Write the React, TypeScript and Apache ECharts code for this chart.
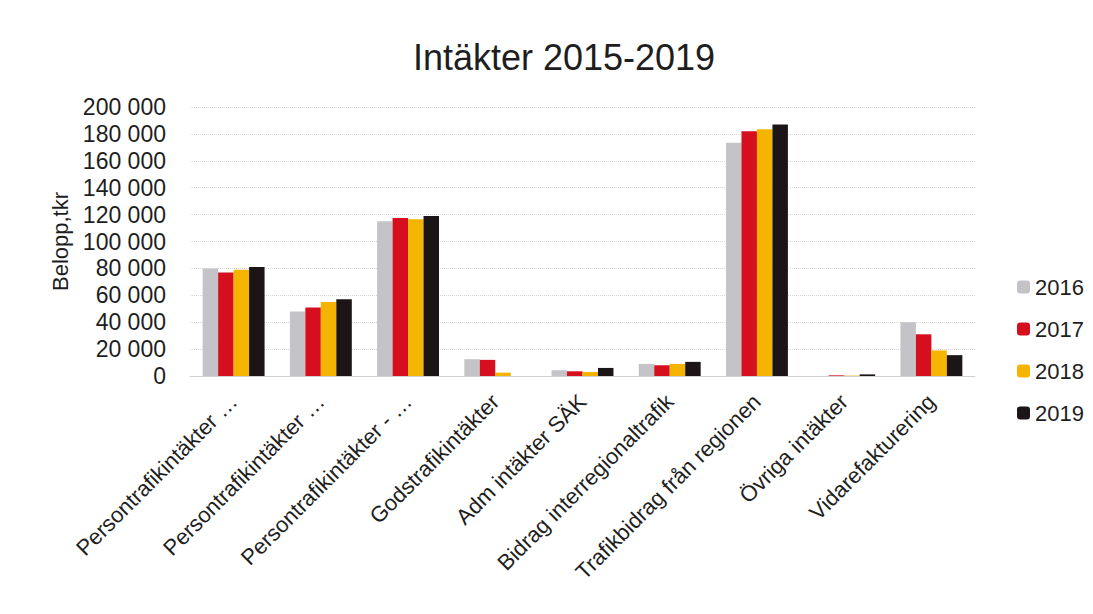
import React, { useEffect, useRef } from "react";
import * as echarts from "echarts";

const categories = [
  "Persontrafikintäkter …",
  "Persontrafikintäkter …",
  "Persontrafikintäkter - …",
  "Godstrafikintäkter",
  "Adm intäkter SÄK",
  "Bidrag interregionaltrafik",
  "Trafikbidrag från regionen",
  "Övriga intäkter",
  "Vidarefakturering",
];
const years = ["2016", "2017", "2018", "2019"];
const v2016 = [80000, 48000, 115000, 12500, 4300, 9000, 173500, 0, 40000];
const v2017 = [77000, 51000, 117500, 12000, 3500, 8000, 182000, 500, 31000];
const v2018 = [79000, 55000, 116500, 2500, 3000, 9000, 183500, 300, 19000];
const v2019 = [81000, 57000, 119000, 0, 6000, 10500, 187000, 1200, 15500];
const colors = ["#c4c4c8", "#d50f1e", "#f5b400", "#1b1517"];

export default function App() {
  const ref = useRef<HTMLDivElement>(null);
  useEffect(() => {
    const chart = echarts.init(ref.current!, null, { renderer: "svg" });
    const font = "Liberation Sans, Arial, sans-serif";
    const data = [v2016, v2017, v2018, v2019];
    chart.setOption({
      animation: false,
      backgroundColor: "#ffffff",
      textStyle: { fontFamily: font },
      title: {
        text: "Intäkter 2015-2019",
        left: 559,
        top: 34,
        textAlign: "center",
        textStyle: { fontSize: 36, fontWeight: "normal", color: "#1e1e1e", fontFamily: font },
      },
      legend: {
        orient: "vertical",
        left: 1012,
        top: 271,
        itemWidth: 13,
        itemHeight: 13,
        itemGap: 20,
        textStyle: { fontSize: 22, color: "#1e1e1e", fontFamily: font },
        data: years,
      },
      grid: { left: 190, right: 118, top: 107, bottom: 238 },
      xAxis: {
        type: "category",
        data: categories,
        axisTick: { show: false },
        axisLine: { lineStyle: { color: "#d0d0d0" } },
        axisLabel: { rotate: 45, fontSize: 22, color: "#1e1e1e", margin: 22, interval: 0, fontFamily: font },
      },
      yAxis: {
        type: "value",
        min: 0,
        max: 200000,
        interval: 20000,
        name: "Belopp,tkr",
        nameLocation: "middle",
        nameGap: 116,
        nameRotate: 90,
        nameTextStyle: { fontSize: 22, color: "#1e1e1e", fontFamily: font },
        axisLabel: {
          fontSize: 23,
          color: "#1e1e1e",
          margin: 24,
          fontFamily: font,
          formatter: (v: number) => String(v).replace(/\B(?=(\d{3})+(?!\d))/g, " "),
        },
        splitLine: { lineStyle: { color: "#d8d8d8", type: "dotted" } },
      },
      series: years.map((y, i) => ({
        name: y,
        type: "bar",
        data: data[i],
        barGap: "0%",
        barCategoryGap: "29%",
        itemStyle: { color: colors[i] },
      })),
    });
    return () => chart.dispose();
  }, []);
  return (
    <div
      ref={ref}
      style={{ position: "fixed", left: 0, top: 0, width: 1093, height: 614 }}
    />
  );
}
